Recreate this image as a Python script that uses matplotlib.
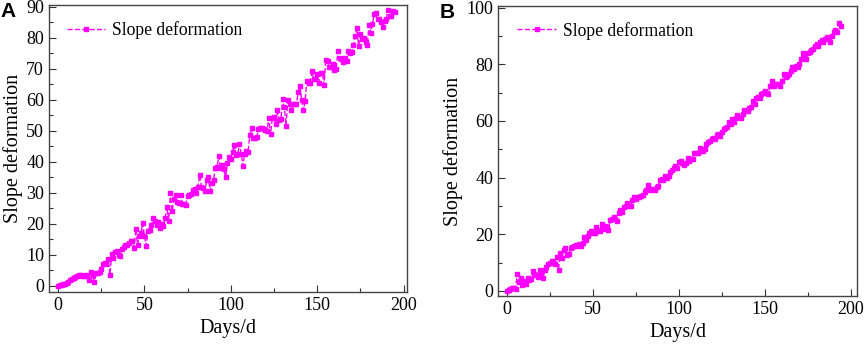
import numpy as np
import matplotlib
matplotlib.use("Agg")
import matplotlib.pyplot as plt
from matplotlib.ticker import MultipleLocator

# slope deformation readings, one per day
defo_a = [
    0.0, 0.2, 0.4, 0.5, 0.7, 0.9, 1.2, 2.0, 2.3, 2.5,
    2.7, 3.0, 3.6, 3.5, 3.3, 3.2, 3.4, 3.3, 2.0, 4.5,
    3.6, 1.3, 4.0, 4.2, 4.6, 5.5, 7.0, 7.3, 7.0, 8.5,
    3.5, 10.4, 8.8, 11.0, 11.3, 9.8, 9.7, 12.0, 12.5, 13.0,
    13.2, 13.8, 14.5, 14.5, 12.3, 18.4, 13.3, 16.0, 17.0, 20.3,
    16.0, 12.9, 17.5, 18.0, 19.5, 22.0, 21.0, 19.5, 20.5, 18.5,
    20.0, 19.2, 22.0, 25.4, 20.8, 29.9, 24.0, 28.0, 29.2, 27.0,
    26.8, 29.2, 26.5, 26.5, 26.0, 29.0, 29.3, 29.5, 31.0, 31.3,
    30.0, 32.0, 35.8, 32.0, 31.5, 30.5, 34.0, 35.0, 30.5, 33.0,
    34.0, 38.0, 38.3, 41.7, 38.0, 39.0, 37.5, 35.0, 39.5, 41.5,
    41.0, 43.0, 45.5, 42.0, 42.5, 45.8, 42.5, 38.6, 42.5, 43.5,
    43.0, 48.7, 50.8, 47.5, 47.5, 47.8, 50.5, 51.0, 50.7, 50.5,
    50.3, 50.0, 54.1, 48.8, 54.0, 54.3, 52.0, 56.8, 53.5, 53.8,
    60.1, 57.5, 51.6, 60.0, 58.5, 56.5, 58.5, 58.5, 58.5, 62.4,
    64.5, 60.0, 56.5, 59.5, 66.1, 65.5, 65.5, 69.2, 66.5, 66.5,
    68.3, 65.3, 68.5, 68.7, 64.8, 72.9, 72.5, 70.5, 70.5, 71.5,
    69.5, 70.0, 75.6, 73.5, 73.0, 72.0, 73.5, 72.5, 75.8, 75.0,
    75.2, 77.5, 80.5, 83.0, 77.4, 81.0, 79.5, 80.0, 78.5, 77.5,
    84.0, 81.5, 84.5, 87.5, 88.0, 86.0, 86.0, 85.0, 83.3, 85.5,
    86.0, 89.0, 87.0, 86.8, 88.5, 88.3,
]

defo_b = [
    0.0, 0.3, 0.6, 1.0, 1.0, 0.8, 6.0, 3.0, 4.5, 2.0,
    3.5, 2.5, 4.5, 4.0, 4.2, 7.0, 6.0, 5.5, 5.0, 7.5,
    5.5, 4.5, 7.5, 8.5, 9.5, 10.0, 10.5, 10.0, 9.5, 12.0,
    7.5, 13.5, 11.5, 14.5, 15.0, 12.5, 13.0, 15.0, 15.5, 16.0,
    16.3, 16.0, 16.5, 16.0, 16.8, 19.0, 18.0, 19.5, 20.5, 21.0,
    20.5, 20.3, 22.5, 21.5, 21.0, 23.5, 22.0, 23.0, 22.5, 21.5,
    25.0, 25.5, 26.0, 25.5, 24.5, 27.5, 28.5, 28.0, 29.5, 30.0,
    31.0, 30.0, 30.0, 32.0, 33.0, 32.5, 33.0, 33.0, 33.5, 34.0,
    35.0, 35.5, 37.5, 36.0, 35.5, 36.0, 35.5, 36.5, 37.0, 39.0,
    39.5, 39.0, 40.5, 40.0, 40.5, 42.0, 42.5, 43.5, 44.0, 43.5,
    45.5, 46.0, 45.0, 44.5, 45.0, 47.0, 46.0, 46.5, 46.5, 48.5,
    48.8, 48.5, 50.5, 49.5, 49.5, 50.0, 52.0, 52.5, 53.0, 53.5,
    54.0, 53.5, 55.0, 55.5, 54.5, 56.0, 57.0, 57.5, 58.0, 59.5,
    59.0, 60.5, 59.5, 61.0, 62.0, 61.5, 61.0, 62.5, 64.0, 63.5,
    63.5, 64.5, 65.0, 67.0, 66.0, 68.0, 68.5, 68.0, 69.5, 70.0,
    70.5, 70.0, 69.5, 72.5, 74.0, 72.5, 73.0, 73.0, 73.0, 72.5,
    74.0, 76.5, 75.5, 76.0, 76.5, 77.5, 79.0, 78.5, 79.5, 79.0,
    80.0, 82.0, 84.0, 83.0, 82.0, 84.0, 84.5, 85.0, 85.5, 86.5,
    87.0, 86.5, 88.0, 88.5, 88.0, 89.0, 89.5, 89.0, 88.0, 90.0,
    91.5, 92.0, 91.5, 94.5, 93.5,
]

days_a = np.arange(len(defo_a))
days_b = np.arange(len(defo_b))

plt.rcParams['font.family'] = ['Liberation Serif', 'DejaVu Serif']

fig = plt.figure(figsize=(8.65, 3.47), dpi=100)
ax_a = fig.add_axes([0.0566, 0.1585, 0.4139, 0.8271])
ax_b = fig.add_axes([0.5757, 0.147, 0.415, 0.836])

magenta = '#ff00ff'


def style(ax, ylim, ystep, leg_x):
    ax.set_xlim(-5.3, 202)
    ax.set_ylim(*ylim)
    ax.xaxis.set_major_locator(MultipleLocator(50))
    ax.xaxis.set_minor_locator(MultipleLocator(25))
    ax.yaxis.set_major_locator(MultipleLocator(ystep))
    ax.yaxis.set_minor_locator(MultipleLocator(ystep / 2))
    ax.tick_params(which='both', direction='in', top=False, right=False,
                   labelsize=13, color='#333333', width=0.8)
    ax.tick_params(which='major', length=5)
    ax.tick_params(which='minor', length=3)
    for s in ax.spines.values():
        s.set_color('#444444')
        s.set_linewidth(1.0)
    ax.set_xlabel('Days/d', fontsize=14.5, labelpad=4)
    ax.set_ylabel('Slope deformation', fontsize=14.5, labelpad=2)
    ax.legend(loc='upper left', frameon=False, fontsize=12.7,
              handlelength=2.2, handletextpad=0.4,
              borderaxespad=0.5, bbox_to_anchor=(leg_x, 1.0))


ax_a.plot(days_a, defo_a, ls='--', color=magenta, lw=1.0, marker='s',
          ms=3.5, mec=magenta, label='Slope deformation')
ax_b.plot(days_b, defo_b, ls='--', color=magenta, lw=1.0, marker='s',
          ms=3.5, mec=magenta, label='Slope deformation')

style(ax_a, (-2, 90.5), 10, 0.005)
style(ax_b, (-1.8, 100.6), 20, 0.01)
ax_b.set_xlim(-5.2, 203.5)

fig.text(0.001, 0.995, 'A', fontsize=15, fontweight='bold',
         family='Liberation Sans', va='top', ha='left')
fig.text(0.508, 0.992, 'B', fontsize=15, fontweight='bold',
         family='Liberation Sans', va='top', ha='left')

fig.savefig('out.png', dpi=100)
